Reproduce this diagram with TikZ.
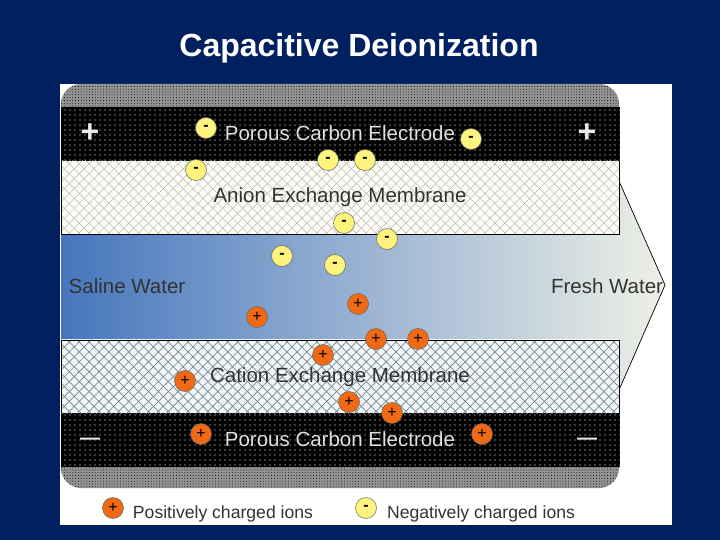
\documentclass[tikz,border=0pt]{standalone}
\usepackage{fontspec}
\setmainfont{Liberation Sans}
\usetikzlibrary{patterns.meta}
\definecolor{navy}{RGB}{0,32,96}
\definecolor{neg}{RGB}{253,243,125}
\definecolor{pos}{RGB}{240,105,20}
\definecolor{watL}{RGB}{70,118,190}
\definecolor{watR}{RGB}{238,240,230}
\definecolor{anionbg}{RGB}{253,253,245}
\definecolor{cationbg}{RGB}{238,248,252}
\tikzset{
 ionbase/.style={circle,minimum size=21pt,inner sep=0pt,font=\fontsize{16}{16}\selectfont\bfseries},
 negion/.style={ionbase,fill=neg,draw=black!60,line width=.5pt},
 posion/.style={ionbase,fill=pos,draw=black!60,line width=.5pt},
 onblack/.style={font=\fontsize{20.5}{22}\selectfont,text=white!88!black},
 onlight/.style={font=\fontsize{20.5}{22}\selectfont,text=black!80},
 legendtxt/.style={font=\fontsize{17.6}{18}\selectfont,text=black!80},
 layerline/.style={draw=black,line width=.8pt},
 capdots/.style={pattern={Dots[radius=.5pt,distance=2.8pt]},pattern color=black},
 electrodots/.style={pattern={Dots[radius=.55pt,distance=5pt]},pattern color=white}
}
\begin{document}
\begin{tikzpicture}[x=1pt,y=-1pt]
\useasboundingbox (0,0) rectangle (720,540);
\fill[navy] (0,0) rectangle (720,540);
\fill[white] (60,84) rectangle (672,525);
% water arrow
\path[left color=watL,right color=watR,draw=none]
 (61,235) -- (619,235) -- (619,181) -- (665,285) -- (619,390) -- (619,339) -- (61,339) -- cycle;
\draw[black,line width=.7pt] (619,181) -- (665,285) -- (619,390);
% grey caps
\fill[black!42!white] (61,107) -- (61,104) arc[start angle=180,end angle=270,radius=20] -- (599,84) arc[start angle=270,end angle=360,radius=20] -- (619,107) -- cycle;
\fill[capdots] (61,107) -- (61,104) arc[start angle=180,end angle=270,radius=20] -- (599,84) arc[start angle=270,end angle=360,radius=20] -- (619,107) -- cycle;
\fill[black!42!white] (61,467) -- (61,468) arc[start angle=180,end angle=90,radius=20] -- (599,488) arc[start angle=90,end angle=0,radius=20] -- (619,467) -- cycle;
\fill[capdots] (61,467) -- (61,468) arc[start angle=180,end angle=90,radius=20] -- (599,488) arc[start angle=90,end angle=0,radius=20] -- (619,467) -- cycle;
% electrodes
\fill[black] (61,107) rectangle (620,161);
\fill[electrodots] (61,107) rectangle (620,161);
\fill[black] (61,413) rectangle (620,467);
\fill[electrodots] (61,413) rectangle (620,467);
% membranes
\fill[anionbg] (61,161) rectangle (619,234);
\fill[pattern={Lines[angle=45,distance=7pt,line width=.5pt]},pattern color=black!28] (61,161) rectangle (619,234);
\fill[pattern={Lines[angle=-45,distance=7pt,line width=.5pt]},pattern color=black!28] (61,161) rectangle (619,234);
\draw[layerline] (61,161) -- (61,234) -- (619,234) -- (619,161);
\fill[cationbg] (61,340) rectangle (619,413);
\fill[pattern={Lines[angle=45,distance=7pt,line width=.7pt]},pattern color=black!50] (61,340) rectangle (619,413);
\fill[pattern={Lines[angle=-45,distance=7pt,line width=.7pt]},pattern color=black!50] (61,340) rectangle (619,413);
\draw[layerline] (61,413) -- (61,340) -- (619,340) -- (619,413);
% text
\node[font=\fontsize{32}{34}\selectfont\bfseries,text=white] (title) at (359,48) {Capacitive Deionization};
\node[onblack] (e1) at (340,133) {Porous Carbon Electrode};
\node[onblack] (e2) at (340,439) {Porous Carbon Electrode};
\node[onlight] (am) at (340,197) {Anion Exchange Membrane};
\node[onlight] (cm) at (340,377) {Cation Exchange Membrane};
\node[onlight] (sw) at (127,286) {Saline Water};
\node[onlight] (fw) at (607,286) {Fresh Water};
\node[legendtxt] (lp) at (223,514) {Positively charged ions};
\node[legendtxt] (ln) at (481,514) {Negatively charged ions};
% signs
\node[font=\fontsize{32}{32}\selectfont\bfseries,text=white!92!black] (p1) at (90,133) {+};
\node[font=\fontsize{32}{32}\selectfont\bfseries,text=white!92!black] (p2) at (587,133) {+};
\node[font=\fontsize{20}{20}\selectfont\bfseries,text=white!92!black] (m1) at (90,441) {—};
\node[font=\fontsize{20}{20}\selectfont\bfseries,text=white!92!black] (m2) at (587,441) {—};
% negative ions
\foreach \n/\x/\y in {a/206/128,b/471/139,c/328/160,d/365/160,e/196/170,f/344/223,g/387/239,h/282/256,i/335/265,j/366/508}
 \node[negion] (n\n) at (\x,\y) {-};
% positive ions
\foreach \n/\x/\y in {a/358/304,b/257/317,c/376/339,d/418/339,e/323/355,f/185/381,g/349/402,h/392/413,i/201/434,j/482/434,k/113/508}
 \node[posion,font=\fontsize{16}{16}\selectfont] (q\n) at (\x,\y) {+};
\end{tikzpicture}
\end{document}
